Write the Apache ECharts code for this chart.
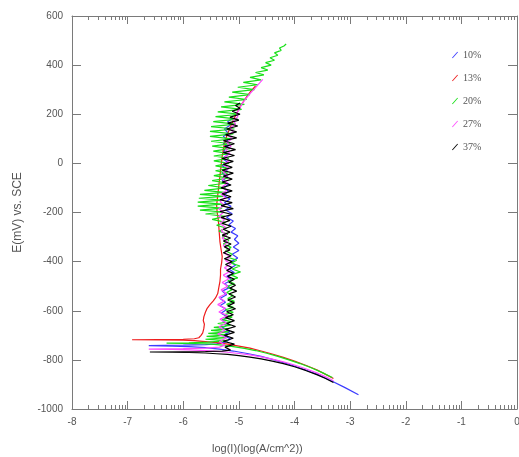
<!DOCTYPE html>
<html>
<head>
<meta charset="utf-8">
<script src="https://cdn.jsdelivr.net/npm/echarts@6/dist/echarts.min.js"></script>
<style>
html,body{margin:0;padding:0;background:#fff;}
#c{width:519px;height:457px;}
</style>
</head>
<body>
<div id="c"></div>
<script>
// ---- data: [log(I), E(mV)] in sweep order ----
const seriesNames = ['10%', '13%', '20%', '27%', '37%'];
const xTickLabels = ['-8','-7','-6','-5','-4','-3','-2','-1','0'];
const yTickLabels = ['600','400','200','0','-200','-400','-600','-800','-1000'];

const data10 = [
 [-2.85,-942],[-3.1,-912],[-3.35,-884],[-3.6,-858],[-3.85,-837],[-4.1,-818],[-4.35,-801],[-4.6,-786],
 [-4.85,-774],[-5.1,-764],[-5.35,-756],[-5.6,-750],[-5.9,-746],[-6.2,-744],[-6.62,-742],
 [-6.0,-740],[-5.6,-738],[-5.4,-735],[-5.25,-728],
 [-5.15,-715],[-5.28,-700],[-5.16,-685],[-5.3,-670],[-5.18,-655],[-5.3,-640],[-5.2,-625],[-5.32,-610],
 [-5.22,-595],[-5.34,-580],[-5.24,-565],[-5.34,-550],[-5.22,-535],[-5.3,-520],[-5.16,-505],[-5.26,-490],
 [-5.12,-475],[-5.22,-460],[-5.08,-445],[-5.18,-430],[-5.06,-415],[-5.14,-400],[-5.02,-385],[-5.12,-370],
 [-5.0,-355],[-5.1,-340],[-5.0,-325],[-5.08,-310],[-5.02,-295],[-5.14,-280],[-5.06,-265],[-5.18,-250],
 [-5.1,-235],[-5.22,-220],[-5.12,-205],[-5.24,-190],[-5.14,-175],[-5.26,-160],[-5.16,-145],[-5.28,-130],
 [-5.18,-115],[-5.28,-100],[-5.18,-85],[-5.3,-70],[-5.2,-55],[-5.3,-40],[-5.2,-25],[-5.3,-10],
 [-5.2,5],[-5.3,20],[-5.2,35],[-5.28,50],[-5.18,65],[-5.28,80],[-5.2,95],[-5.28,110],[-5.2,125],
 [-5.26,140],[-5.16,155],[-5.2,170],[-5.12,182]
];

const data13 = [
 [-3.3,-876],[-3.45,-858],[-3.6,-840],[-3.8,-822],[-4.0,-805],[-4.2,-790],[-4.4,-776],[-4.6,-764],
 [-4.8,-752],[-5.0,-744],[-5.2,-736],[-5.4,-730],[-5.6,-726],[-5.8,-722],[-6.0,-720],[-6.4,-719],[-6.92,-718],
 [-6.0,-716],[-5.8,-714],[-5.72,-710],[-5.68,-700],[-5.65,-690],[-5.63,-672],[-5.62,-655],[-5.64,-640],
 [-5.63,-625],[-5.6,-605],[-5.57,-590],[-5.52,-575],[-5.46,-560],[-5.42,-548],[-5.38,-530],[-5.36,-505],
 [-5.34,-480],[-5.33,-455],[-5.33,-430],[-5.31,-405],[-5.3,-380],[-5.32,-350],[-5.34,-320],[-5.35,-290],
 [-5.36,-260],[-5.37,-230],[-5.39,-200],[-5.4,-170],[-5.38,-130],[-5.36,-90],[-5.34,-50],[-5.32,-10],
 [-5.3,30],[-5.27,70],[-5.22,110],[-5.15,150],[-5.07,190],[-4.98,230],[-4.88,265],[-4.78,295],[-4.7,315]
];

const data20 = [
 [-3.32,-872],[-3.5,-852],[-3.7,-832],[-3.9,-815],[-4.1,-800],[-4.3,-786],[-4.5,-773],[-4.7,-762],
 [-4.9,-753],[-5.1,-746],[-5.3,-740],[-5.5,-736],[-5.7,-734],[-6.0,-733],[-6.3,-732],[-5.9,-731],
 [-5.55,-728],[-5.2,-722],[-5.6,-716],[-5.22,-710],[-5.58,-704],[-5.2,-698],[-5.55,-692],[-5.18,-686],
 [-5.5,-680],[-5.2,-674],[-5.45,-668],[-5.15,-660],[-5.38,-652],[-5.14,-644],[-5.3,-636],[-5.12,-626],
 [-5.26,-616],[-5.1,-606],[-5.24,-596],[-5.1,-586],[-5.22,-574],[-5.08,-562],[-5.2,-550],[-5.1,-538],
 [-5.22,-526],[-5.12,-514],[-5.22,-502],[-5.08,-490],[-5.2,-478],[-5.02,-466],[-5.14,-454],[-4.97,-442],
 [-5.12,-430],[-4.98,-418],[-5.14,-406],[-5.04,-394],[-5.2,-382],[-5.12,-370],[-5.24,-356],[-5.14,-342],
 [-5.28,-328],[-5.18,-314],[-5.3,-300],[-5.2,-288],[-5.36,-276],[-5.22,-264],[-5.4,-252],[-5.24,-240],
 [-5.48,-228],[-5.25,-216],[-5.6,-206],[-5.28,-198],[-5.7,-190],[-5.3,-182],[-5.74,-174],[-5.3,-166],
 [-5.74,-158],[-5.3,-150],[-5.72,-142],[-5.28,-134],[-5.7,-126],[-5.26,-118],[-5.62,-110],[-5.24,-100],
 [-5.55,-90],[-5.22,-80],[-5.48,-70],[-5.2,-60],[-5.45,-50],[-5.2,-40],[-5.42,-30],[-5.18,-20],
 [-5.42,-10],[-5.18,0],[-5.45,10],[-5.18,20],[-5.45,30],[-5.17,40],[-5.46,50],[-5.16,60],
 [-5.48,70],[-5.15,80],[-5.5,90],[-5.13,100],[-5.52,110],[-5.1,120],[-5.52,130],[-5.08,140],
 [-5.5,150],[-5.06,160],[-5.46,170],[-5.02,180],[-5.42,190],[-4.98,200],[-5.38,210],[-4.95,220],
 [-5.32,230],[-4.9,240],[-5.26,250],[-4.86,260],[-5.18,270],[-4.8,280],[-5.12,290],[-4.72,300],
 [-5.02,310],[-4.66,320],[-4.92,330],[-4.6,340],[-4.8,350],[-4.55,360],[-4.7,370],[-4.48,380],
 [-4.6,390],[-4.42,400],[-4.52,410],[-4.36,420],[-4.44,430],[-4.3,440],[-4.36,450],[-4.24,460],
 [-4.27,470],[-4.19,478],[-4.15,486]
];

const data27 = [
 [-3.3,-885],[-3.45,-868],[-3.6,-853],[-3.8,-836],[-4.0,-821],[-4.2,-808],[-4.4,-797],[-4.6,-788],
 [-4.8,-780],[-5.0,-774],[-5.2,-769],[-5.4,-765],[-5.6,-762],[-5.9,-759],[-6.2,-757],[-6.62,-756],
 [-6.0,-754],[-5.6,-752],[-5.35,-748],[-5.25,-740],
 [-5.35,-725],[-5.22,-710],[-5.38,-695],[-5.25,-680],[-5.36,-665],[-5.22,-650],[-5.34,-635],[-5.2,-620],
 [-5.36,-605],[-5.24,-590],[-5.38,-575],[-5.26,-560],[-5.36,-545],[-5.22,-530],[-5.32,-515],[-5.2,-500],
 [-5.3,-485],[-5.18,-470],[-5.28,-455],[-5.16,-440],[-5.26,-425],[-5.14,-410],[-5.24,-395],[-5.16,-380],
 [-5.26,-365],[-5.18,-350],[-5.28,-335],[-5.2,-320],[-5.3,-305],[-5.22,-290],[-5.32,-275],[-5.24,-260],
 [-5.34,-245],[-5.26,-230],[-5.36,-215],[-5.28,-200],[-5.36,-185],[-5.26,-170],[-5.34,-155],[-5.24,-140],
 [-5.32,-125],[-5.22,-110],[-5.3,-95],[-5.2,-80],[-5.3,-65],[-5.2,-50],[-5.28,-35],[-5.18,-20],
 [-5.28,-5],[-5.18,10],[-5.26,25],[-5.16,40],[-5.24,55],[-5.14,70],[-5.22,85],[-5.12,100],
 [-5.2,115],[-5.1,130],[-5.16,145],[-5.06,160],[-5.1,175],[-5.02,190],[-5.04,205],[-5.0,217],
 [-4.95,240],[-4.88,262],[-4.8,284],[-4.72,303],[-4.65,322],[-4.57,342]
];

const data37 = [
 [-3.3,-892],[-3.45,-875],[-3.6,-860],[-3.8,-843],[-4.0,-828],[-4.2,-815],[-4.4,-805],[-4.6,-796],
 [-4.8,-789],[-5.0,-783],[-5.2,-778],[-5.4,-775],[-5.6,-772],[-5.9,-770],[-6.2,-769],[-6.6,-768],
 [-6.0,-767],[-5.6,-766],[-5.3,-764],[-5.15,-760],
 [-5.25,-748],[-5.08,-736],[-5.28,-724],[-5.1,-712],[-5.26,-700],[-5.08,-688],[-5.24,-676],[-5.06,-664],
 [-5.22,-652],[-5.08,-640],[-5.24,-628],[-5.1,-616],[-5.22,-604],[-5.06,-592],[-5.2,-580],[-5.08,-568],
 [-5.2,-556],[-5.06,-544],[-5.18,-532],[-5.04,-520],[-5.16,-508],[-5.06,-496],[-5.18,-484],[-5.08,-472],
 [-5.2,-460],[-5.1,-448],[-5.22,-436],[-5.12,-424],[-5.24,-412],[-5.12,-400],[-5.26,-388],[-5.14,-376],
 [-5.28,-364],[-5.16,-352],[-5.26,-340],[-5.14,-328],[-5.28,-316],[-5.15,-304],[-5.3,-292],[-5.16,-280],
 [-5.28,-268],[-5.14,-256],[-5.3,-244],[-5.16,-232],[-5.32,-220],[-5.12,-208],[-5.34,-196],[-5.1,-184],
 [-5.32,-172],[-5.12,-160],[-5.34,-148],[-5.14,-136],[-5.3,-124],[-5.12,-112],[-5.32,-100],[-5.14,-88],
 [-5.3,-76],[-5.12,-64],[-5.28,-52],[-5.1,-40],[-5.3,-28],[-5.12,-16],[-5.28,-4],[-5.1,8],
 [-5.3,20],[-5.08,32],[-5.28,44],[-5.06,56],[-5.26,68],[-5.08,80],[-5.28,92],[-5.04,104],
 [-5.24,116],[-5.04,128],[-5.22,140],[-5.02,152],[-5.2,164],[-5.0,176],[-5.16,188],[-4.98,200],
 [-5.12,212],[-4.98,224],[-5.06,236],[-4.98,246]
];

const seriesData = [data10, data13, data20, data27, data37];
const seriesColors = ['#3c3cff', '#ee1c1c', '#18e018', '#ff4cff', '#000000'];

// log-style minor tick positions inside each decade
const minorTicks = [];
for (let d = -8; d < 0; d++) {
  for (let k = 2; k <= 9; k++) minorTicks.push(d + Math.log10(k));
}

const axisGray = '#7a7a7a';
const chart = echarts.init(document.getElementById('c'), null, {renderer: 'canvas'});

function xAxisDef(pos, minor, labels) {
  return {
    type: 'value', min: -8, max: 0, interval: 1, position: pos,
    axisLine: {show: !minor, onZero: false, lineStyle: {color: axisGray, width: 1}},
    axisTick: minor
      ? {show: true, inside: true, length: 4, customValues: minorTicks, lineStyle: {color: axisGray}}
      : {show: true, inside: true, length: 8, lineStyle: {color: axisGray}},
    axisLabel: labels
      ? {show: true, color: '#555', fontSize: 10, fontFamily: 'Liberation Sans, Arial, sans-serif', margin: 8,
         formatter: v => xTickLabels[Math.round(v) + 8]}
      : {show: false},
    splitLine: {show: false}
  };
}

const option = {
  animation: false,
  backgroundColor: '#ffffff',
  grid: {left: 72, right: 2, top: 16, bottom: 48, containLabel: false, outerBoundsMode: 'none'},
  legend: {
    orient: 'vertical', left: 447, top: 44, itemGap: 11, itemWidth: 6, itemHeight: 8,
    data: seriesNames.map(n => ({name: n, icon: 'path://M0,9 L8,0 L9,1 L1,10 Z'})),
    textStyle: {color: '#555', fontSize: 10, fontFamily: 'Liberation Serif, Times New Roman, serif', lineHeight: 12}
  },
  xAxis: [
    xAxisDef('bottom', false, true),
    xAxisDef('bottom', true, false),
    xAxisDef('top', false, false),
    xAxisDef('top', true, false)
  ],
  yAxis: [
    {
      type: 'value', min: -1000, max: 600, interval: 200, position: 'left',
      name: 'E(mV) vs. SCE', nameLocation: 'middle', nameGap: 48,
      nameTextStyle: {color: '#555', fontSize: 12, fontFamily: 'Liberation Sans, Arial, sans-serif'},
      axisLine: {show: true, onZero: false, lineStyle: {color: axisGray}},
      axisTick: {show: true, inside: true, length: 9, lineStyle: {color: axisGray}},
      axisLabel: {color: '#555', fontSize: 10, fontFamily: 'Liberation Sans, Arial, sans-serif', margin: 9,
        formatter: v => yTickLabels[Math.round((600 - v) / 200)]},
      splitLine: {show: false}
    },
    {
      type: 'value', min: -1000, max: 600, interval: 200, position: 'right',
      axisLine: {show: true, onZero: false, lineStyle: {color: axisGray}},
      axisTick: {show: true, inside: true, length: 9, lineStyle: {color: axisGray}},
      axisLabel: {show: false},
      splitLine: {show: false}
    }
  ],
  graphic: [{
    type: 'text', left: 212, top: 443,
    style: {text: 'log(I)(log(A/cm^2))', fill: '#555', fontSize: 11, fontFamily: 'Liberation Sans, Arial, sans-serif'}
  }],
  series: seriesNames.map((n, i) => ({
    name: n, type: 'line', xAxisIndex: 0, yAxisIndex: 0,
    data: seriesData[i], showSymbol: false, symbol: 'none',
    lineStyle: {width: 1.2, color: seriesColors[i]},
    itemStyle: {color: seriesColors[i]},
    z: 2 + i
  }))
};
chart.setOption(option);
</script>
</body>
</html>
